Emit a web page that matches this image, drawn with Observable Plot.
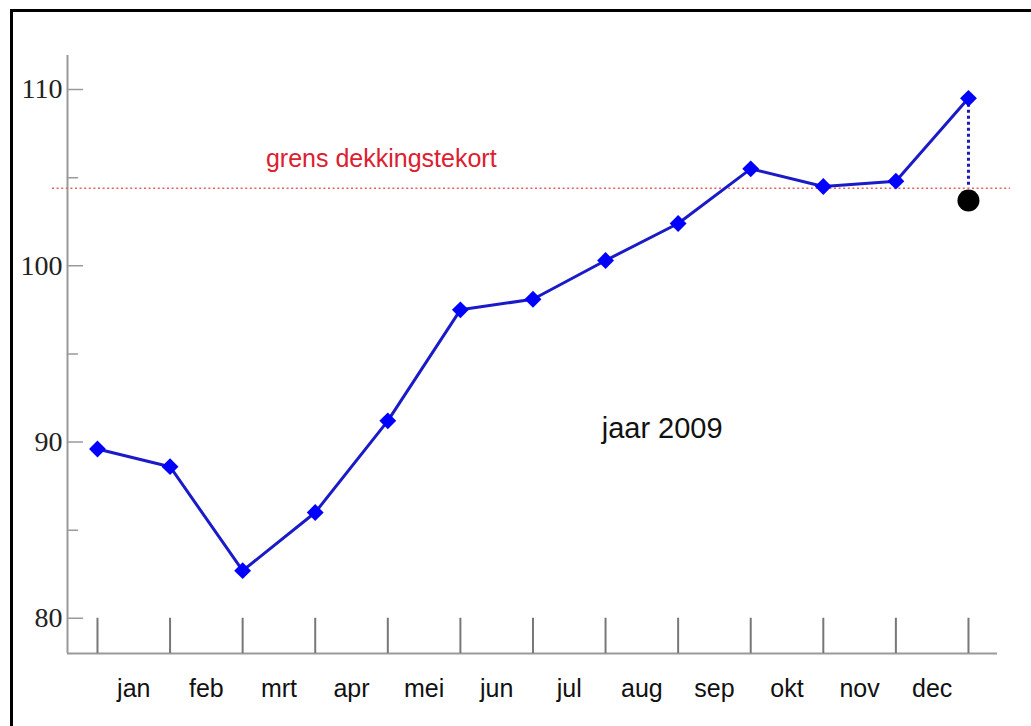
<!DOCTYPE html>
<html>
<head>
<meta charset="utf-8">
<script src="https://cdn.jsdelivr.net/npm/d3@7"></script>
<script src="https://cdn.jsdelivr.net/npm/@observablehq/plot@0.6"></script>
<style>
  html, body { margin: 0; padding: 0; background: #fff; overflow: hidden; }
  #wrap { position: relative; width: 1031px; height: 726px; }
  #border { position: absolute; left: 10px; top: 9px; width: 1100px; height: 800px;
            border-left: 3px solid #000; border-top: 3px solid #000; pointer-events: none; }
</style>
</head>
<body>
<div id="wrap"><div id="border"></div></div>
<script>
// ---- data ----
const months = ["jan", "feb", "mrt", "apr", "mei", "jun", "jul", "aug", "sep", "okt", "nov", "dec"];
// value at each month boundary (start of jan ... end of dec)
const boundaryIndex = [0, 1, 2, 3, 4, 5, 6, 7, 8, 9, 10, 11, 12];
const dekkingsgraad = [89.6, 88.6, 82.7, 86.0, 91.2, 97.5, 98.1, 100.3, 102.4, 105.5, 104.5, 104.8, 109.5];
const grensDekkingstekort = 104.4;
const eindPunt = 103.7;
const yMajorTicks = [80, 90, 100, 110];
const yMinorTicks = [85, 95, 105];
const xDomain = [-0.413, 12.4];
const yDomain = [78.0, 111.93];
const labelGrens = {text: "grens dekkingstekort", x: 3.91};
const labelJaar = {text: "jaar 2009", x: 7.78, y: 90.2};

const series = boundaryIndex.map((i, k) => ({i, v: dekkingsgraad[k]}));
const monthData = months.map((m, k) => ({m, x: k + 0.5}));
const last = series[series.length - 1];

const tickShape = {draw(context, l) { context.moveTo(0, 0); context.lineTo(0, -l); }};

const chart = Plot.plot({
  width: 1031,
  height: 726,
  marginLeft: 67,
  marginRight: 34,
  marginTop: 55,
  marginBottom: 73,
  style: {background: "transparent", overflow: "visible"},
  x: {domain: xDomain, axis: null},
  y: {domain: yDomain, axis: null},
  marks: [
    // axis lines
    Plot.ruleX([xDomain[0]], {stroke: "#9a9a9a", strokeWidth: 2}),
    Plot.ruleY([yDomain[0]], {stroke: "#9a9a9a", strokeWidth: 2}),
    // y ticks (inward)
    Plot.vector(yMajorTicks, {x: xDomain[0], y: d => d, length: 15, rotate: 90, anchor: "start",
      shape: tickShape, stroke: "#9a9a9a", strokeWidth: 1.5}),
    Plot.vector(yMinorTicks, {x: xDomain[0], y: d => d, length: 10, rotate: 90, anchor: "start",
      shape: tickShape, stroke: "#9a9a9a", strokeWidth: 1.5}),
    // y labels
    Plot.axisY({ticks: yMajorTicks, tickSize: 0, tickPadding: 5, fontSize: 28,
      fontFamily: "Liberation Serif, DejaVu Serif, serif", color: "#222", tickFormat: d => d}),
    // x ticks at month boundaries
    Plot.ruleX(boundaryIndex, {x: d => d, y1: yDomain[0], y2: yMajorTicks[0], stroke: "#777", strokeWidth: 2}),
    // month labels
    Plot.text(monthData, {x: "x", text: "m", frameAnchor: "bottom", dy: 35, lineAnchor: "middle",
      fontSize: 25, fontFamily: "Liberation Sans, Arial, sans-serif", fill: "#111"}),
    // threshold
    Plot.ruleY([grensDekkingstekort], {stroke: "#e86060", strokeWidth: 1.6, strokeDasharray: "2,2.6",
      insetLeft: -15, insetRight: -13}),
    Plot.text([labelGrens], {x: "x", y: () => grensDekkingstekort, text: "text", dy: -21, lineAnchor: "bottom",
      fontSize: 25, fontFamily: "Liberation Sans, Arial, sans-serif", fill: "#dc2030"}),
    // dotted vertical from dec value to threshold
    Plot.ruleX([last], {x: "i", y1: "v", y2: () => grensDekkingstekort, stroke: "#1a1ab0",
      strokeWidth: 3, strokeDasharray: "3,3"}),
    // line and markers
    Plot.line(series, {x: "i", y: "v", stroke: "#1a1ac8", strokeWidth: 3}),
    Plot.dot(series, {x: "i", y: "v", symbol: "diamond2", r: 7.6, fill: "#0000ff", stroke: "none"}),
    // end point
    Plot.dot([eindPunt], {x: last.i, y: d => d, r: 11, fill: "#000", stroke: "none"}),
    // year annotation
    Plot.text([labelJaar], {x: "x", y: "y", text: "text", lineAnchor: "bottom",
      fontSize: 29, fontFamily: "Liberation Sans, Arial, sans-serif", fill: "#111"})
  ]
});
document.getElementById("wrap").prepend(chart);
</script>
</body>
</html>
